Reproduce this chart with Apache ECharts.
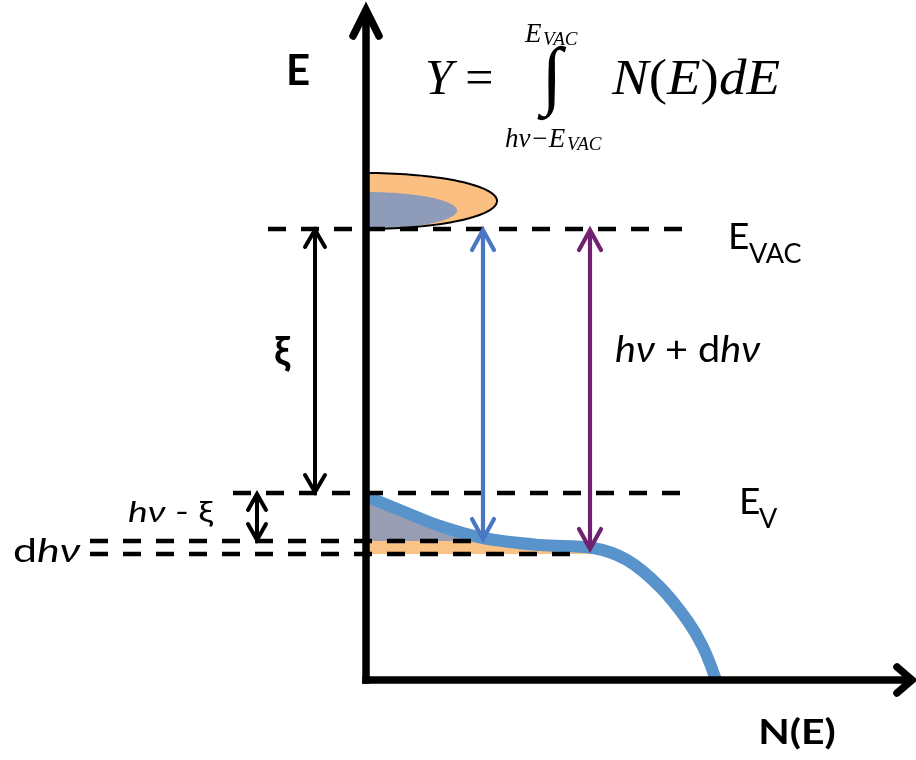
<!DOCTYPE html>
<html>
<head>
<meta charset="utf-8">
<script src="https://cdn.jsdelivr.net/npm/echarts@6/dist/echarts.min.js"></script>
<style>
  html, body { margin: 0; padding: 0; background: #ffffff; }
  #chart { width: 916px; height: 760px; }
</style>
</head>
<body>
<div id="chart"></div>
<script>
// ---- Energy levels (E units), drawn as dashed horizontal lines ----
const levelNames    = ['E_VAC', 'E_V', 'E_V - dhv (upper)', 'E_V - dhv (lower)'];
const levelEnergies = [45.1, 18.7, 13.9, 12.6];
const levelFromN    = [-9.8, -13.3, -27.6, -27.6];
const levelToN      = [32.4, 32.4, 11.4, 21.4];

// ---- Occupied density of states N(E) below E_V ----
const dosN = [0.2, 4.1, 7.4, 11.7, 17.4, 22.7, 26.1, 29.4, 32.1, 33.7, 35.0];
const dosE = [18.3, 16.7, 15.4, 14.2, 13.5, 13.2, 12.0, 9.3, 6.0, 3.3, 0];

// ---- Emitted-electron lobes above E_VAC: outer (orange) and inner (grey) ----
const lobeCentreE = [47.9, 46.95];
const lobeHalfN   = [13.1, 9.1];
const lobeHalfE   = [2.8, 1.85];

// ---- Transition arrows: N position, upper and lower energy ----
const arrowNames   = ['xi', 'hv - xi', 'hv', 'hv + dhv'];
const arrowN       = [-5.1, -10.9, 11.7, 22.4];
const arrowTopE    = [45.1, 18.7, 45.1, 45.1];
const arrowBottomE = [18.7, 13.9, 14.0, 13.0];

// ---- Axis extents ----
const axisEndN = 54.9;
const axisEndE = 67.3;

const arrowColors = ['#000000', '#000000', '#4a77c2', '#70216f'];
const arrowHeads  = [[10, 17], [9, 16], [11, 20], [11, 20]];
const levelIndex = { top: 2, bottom: 3 };

// N where the DOS curve crosses a given energy
function crossing(level) {
  for (let k = 1; k < dosE.length; k++) {
    if (dosE[k - 1] >= level && dosE[k] <= level) {
      const t = (dosE[k - 1] - level) / (dosE[k - 1] - dosE[k]);
      return dosN[k - 1] + t * (dosN[k] - dosN[k - 1]);
    }
  }
  return dosN[dosN.length - 1];
}

// Region between the E axis and the DOS curve, limited to [bottom, top]
function bandPolygon(top, bottom) {
  const upper = Math.min(top, dosE[0]);
  const pts = [[0, bottom], [0, upper]];
  if (top < dosE[0]) pts.push([crossing(top), top]);
  for (let k = 0; k < dosE.length; k++) {
    if (dosE[k] <= upper && dosE[k] > bottom) pts.push([dosN[k], dosE[k]]);
  }
  pts.push([crossing(bottom), bottom]);
  return pts;
}

function lobePoints(api, i) {
  const pts = [];
  const steps = 72;
  for (let k = 0; k <= steps; k++) {
    const a = -Math.PI / 2 + Math.PI * k / steps;
    pts.push(api.coord([lobeHalfN[i] * Math.cos(a), lobeCentreE[i] - lobeHalfE[i] * Math.sin(a)]));
  }
  return pts;
}

function chevron(tip, dir, half, len) {
  // dir: unit vector pointing from the tip back along the shaft
  const px = -dir[1], py = dir[0];
  return [
    [tip[0] + dir[0] * len + px * half, tip[1] + dir[1] * len + py * half],
    tip,
    [tip[0] + dir[0] * len - px * half, tip[1] + dir[1] * len - py * half]
  ];
}

const chart = echarts.init(document.getElementById('chart'), null, { renderer: 'canvas' });

const TXT = '#000000';
const sans = 'Lato, "Noto Sans", sans-serif';
const serif = '"Liberation Serif", "Times New Roman", serif';

function txt(x, y, text, font, extra, sx) {
  return {
    type: 'text', x: x, y: y, z: 100, scaleX: sx || 1,
    style: Object.assign({ text: text, font: font, fill: TXT, align: 'left', verticalAlign: 'middle' }, extra || {})
  };
}
function mixed(size, family) {
  return { rich: { i: { font: 'italic ' + size + 'px ' + family }, r: { font: size + 'px ' + family } } };
}

const option = {
  animation: false,
  backgroundColor: '#ffffff',
  grid: { left: 366, right: 0, top: 0, bottom: 80 },
  xAxis: { type: 'value', min: 0, max: 55, show: false },
  yAxis: { type: 'value', min: 0, max: 68, show: false },
  series: [
    {
      // shaded occupations: lobes above E_VAC and the slice between the dhv levels
      type: 'custom', name: 'occupation', clip: false, z: 1,
      data: [[0, 0]],
      renderItem: function (params, api) {
        const grey = bandPolygon(Infinity, levelEnergies[levelIndex.top]).map(p => api.coord(p));
        const orange = bandPolygon(levelEnergies[levelIndex.top], levelEnergies[levelIndex.bottom]).map(p => api.coord(p));
        const outer = lobePoints(api, 0);
        const inner = lobePoints(api, 1);
        return {
          type: 'group',
          children: [
            { type: 'polygon', shape: { points: outer }, style: { fill: '#fbbf82' } },
            { type: 'polygon', shape: { points: inner }, style: { fill: '#8f9cb9' } },
            { type: 'polyline', shape: { points: outer }, style: { fill: null, stroke: '#000000', lineWidth: 2 } },
            { type: 'polygon', shape: { points: grey }, style: { fill: '#989db3' } },
            { type: 'polygon', shape: { points: orange }, style: { fill: '#fbc285' } }
          ]
        };
      }
    },
    {
      type: 'line', name: 'N(E)', z: 2, clip: true,
      data: dosN.map((n, i) => [n, dosE[i]]),
      smooth: 0.35, showSymbol: false, symbol: 'none',
      lineStyle: { color: '#5893cb', width: 12, cap: 'butt' }
    },
    {
      type: 'custom', name: 'levels', clip: false, z: 3,
      data: levelEnergies.map((e, i) => [levelFromN[i], levelToN[i], e]),
      renderItem: function (params, api) {
        const a = api.coord([api.value(0), api.value(2)]);
        const b = api.coord([api.value(1), api.value(2)]);
        return {
          type: 'line',
          shape: { x1: a[0], y1: a[1], x2: b[0], y2: b[1] },
          style: { stroke: '#000000', lineWidth: 4.5, lineDash: [18, 15], lineCap: 'butt' }
        };
      }
    },
    {
      type: 'custom', name: 'transitions', clip: false, z: 4,
      data: arrowN.map((n, i) => [n, arrowTopE[i], arrowBottomE[i]]),
      renderItem: function (params, api) {
        const i = params.dataIndex;
        const top = api.coord([api.value(0), api.value(1)]);
        const bot = api.coord([api.value(0), api.value(2)]);
        const c = arrowColors[i];
        const h = arrowHeads[i];
        const st = { fill: null, stroke: c, lineWidth: i < 2 ? 4 : 4.2, lineCap: 'round', lineJoin: 'miter' };
        return {
          type: 'group',
          children: [
            { type: 'line', shape: { x1: top[0], y1: top[1] + 2, x2: bot[0], y2: bot[1] - 2 }, style: Object.assign({}, st, { lineCap: 'butt' }) },
            { type: 'polyline', shape: { points: chevron([top[0], top[1] + 1], [0, 1], h[0], h[1]) }, style: st },
            { type: 'polyline', shape: { points: chevron([bot[0], bot[1] - 1], [0, -1], h[0], h[1]) }, style: st }
          ]
        };
      }
    },
    {
      type: 'custom', name: 'axes', clip: false, z: 5,
      data: [[0, 0]],
      renderItem: function (params, api) {
        const o = api.coord([0, 0]);
        const t = api.coord([0, axisEndE]);
        const r = api.coord([axisEndN, 0]);
        const st = { fill: null, stroke: '#000000', lineWidth: 7.5, lineCap: 'round', lineJoin: 'miter' };
        return {
          type: 'group',
          children: [
            { type: 'line', shape: { x1: o[0], y1: o[1] + 3.75, x2: t[0], y2: t[1] + 4 }, style: Object.assign({}, st, { lineCap: 'butt' }) },
            { type: 'line', shape: { x1: o[0] - 3.75, y1: o[1], x2: r[0] - 4, y2: r[1] }, style: Object.assign({}, st, { lineCap: 'butt' }) },
            { type: 'polyline', shape: { points: chevron([t[0], t[1] + 3], [0, 1], 13, 26) }, style: st },
            { type: 'polyline', shape: { points: chevron([r[0] - 3, r[1]], [-1, 0], 13, 15) }, style: st }
          ]
        };
      }
    }
  ],
  graphic: [
    // axis titles
    txt(298, 71, 'E', 'bold 42px ' + sans, { align: 'center' }),
    txt(797, 733, 'N(E)', 'bold 35px ' + sans, { align: 'center' }, 1.17),
    // level labels
    txt(728, 237, 'E', '37px ' + sans),
    txt(749, 254, 'VAC', '27px ' + sans),
    txt(739, 502, 'E', '37px ' + sans),
    txt(759, 519, 'V', '27px ' + sans),
    // gap labels
    txt(282, 352, 'ξ', 'bold 40px ' + sans, { align: 'center' }),
    txt(128, 513, '{i|hν}{r| - ξ}', '28px ' + sans, mixed(28, sans), 1.33),
    txt(13, 551, '{r|d}{i|hν}', '33px ' + sans, mixed(33, sans), 1.3),
    txt(615, 350, '{i|hν}{r| + d}{i|hν}', '36px ' + sans, mixed(36, sans), 1.1),
    // photoemission yield
    txt(425, 81, '{i|Y}{r| =}', '50px ' + serif, mixed(50, serif)),
    txt(552, 80, '∫', '76px ' + serif, { align: 'center' }),
    txt(525, 35, 'E', 'italic 27px ' + serif),
    txt(543, 40, 'VAC', 'italic 19px ' + serif),
    txt(505, 140, 'hν−E', 'italic 27px ' + serif),
    txt(567, 145, 'VAC', 'italic 19px ' + serif),
    txt(612, 81, '{i|N}{r|(}{i|E}{r|)}{i|dE}', '50px ' + serif, mixed(50, serif), 1.1)
  ]
};

chart.setOption(option);
</script>
</body>
</html>
